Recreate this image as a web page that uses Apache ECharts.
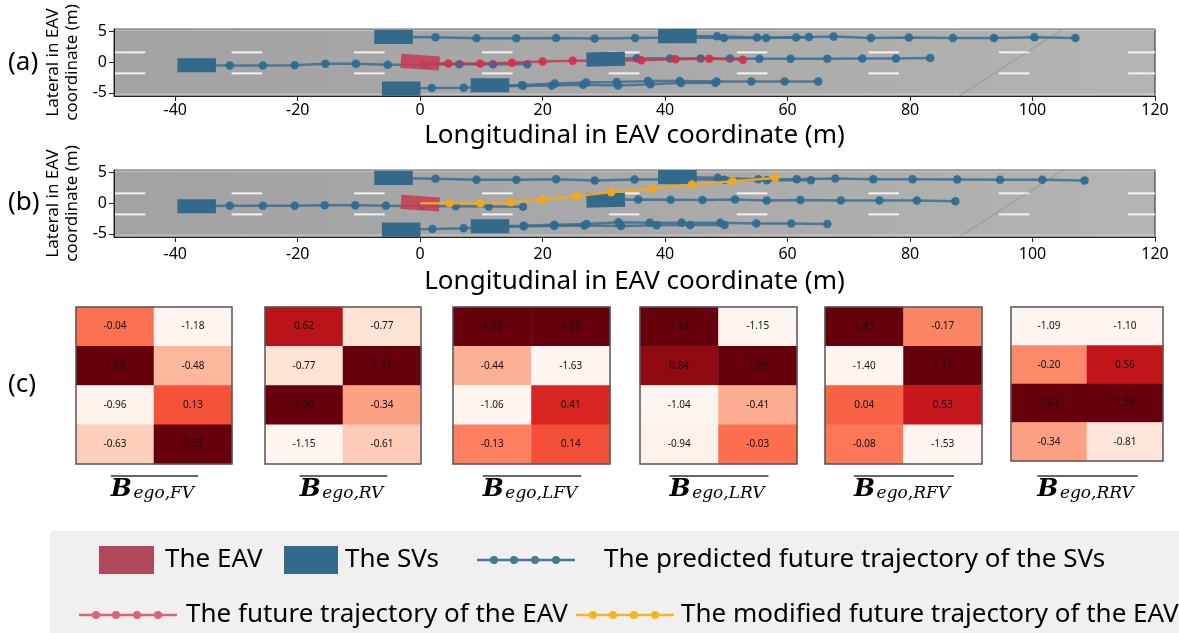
<!DOCTYPE html>
<html>
<head>
<meta charset="utf-8">
<script src="https://cdn.jsdelivr.net/npm/echarts@6.0.0/dist/echarts.min.js"></script>
<style>
html,body{margin:0;padding:0;background:#ffffff;}
#chart{width:1179px;height:633px;}
</style>
</head>
<body>
<div id="chart"></div>
<script>
// ================= DATA =================
const xTicks = [-40, -20, 0, 20, 40, 60, 80, 100, 120];
const yTicks = [-5, 0, 5];
const xRange = [-50, 120];
const yRange = [-5.5, 5.4];

// lane markings (dash start positions, lane line lateral positions)
const dashStarts = [-49.9, -30.8, -10.8, 10.1, 30.8, 51.7, 73.2, 94.5, 115.6];
const laneYs = [1.6, -1.82];
const roadEdgeY = [5.3, -5.35];
const seamX = [88, 105];
const seamY = [-5.5, 5.4];

// vehicles: [x, y, heading(deg)]
const eavPose = [[0, 0, -4]];
const svPoses = [
  [-4.35, 4.1, 0],
  [42.0, 4.25, 0],
  [-36.5, -0.5, 0],
  [30.3, 0.5, 1.5],
  [-3.1, -4.3, 0],
  [11.4, -3.75, 0]
];

// (a) predicted SV trajectories
const sv1A_x = [2.5, 9.2, 15.7, 22.2, 28.5, 35.1, 42.0, 49.6, 56.5, 63.5];
const sv1A_y = [4.05, 3.9, 3.9, 3.95, 3.84, 3.95, 4.0, 3.95, 3.95, 4.1];
const sv2A_x = [48.5, 55.0, 61.4, 67.5, 73.6, 79.8, 87.0, 93.7, 100.3, 107.0];
const sv2A_y = [4.22, 4.0, 4.0, 4.16, 3.95, 4.0, 3.95, 3.95, 4.05, 3.95];
const sv3A_x = [-31.1, -25.7, -20.5, -15.5, -10.5, -5.3, 0.8, 6.4, 11.9, 17.5];
const sv3A_y = [-0.53, -0.53, -0.5, -0.26, -0.26, -0.42, -0.43, -0.32, -0.32, -0.32];
const sv4A_x = [35.4, 40.8, 45.8, 50.6, 55.4, 60.5, 66.5, 72.2, 77.7, 83.3];
const sv4A_y = [0.65, 0.6, 0.6, 0.6, 0.55, 0.55, 0.55, 0.6, 0.6, 0.7];
const sv5A_x = [1.9, 7.1, 12.2, 16.8, 21.5, 26.6, 32.3, 37.6, 42.6, 48.2];
const sv5A_y = [-4.2, -4.15, -4.0, -3.85, -3.8, -3.67, -3.78, -3.6, -3.4, -3.34];
const sv6A_x = [16.6, 22.0, 27.1, 32.1, 37.2, 42.4, 48.4, 54.1, 59.5, 65.0];
const sv6A_y = [-3.75, -3.45, -3.3, -3.24, -3.08, -3.08, -3.13, -3.13, -3.13, -3.13];
// (a) future EAV trajectory
const eavA_x = [4.6, 9.8, 15.0, 20.0, 24.9, 30.5, 36.1, 41.7, 47.2, 52.7];
const eavA_y = [-0.21, -0.21, -0.1, 0.11, 0.22, 0.27, 0.3, 0.49, 0.55, 0.38];

// (b) predicted SV trajectories
const sv1B_x = [2.5, 9.2, 15.7, 22.2, 28.5, 35.0, 42.3, 49.7, 56.6, 63.8];
const sv1B_y = [3.96, 3.8, 3.8, 3.9, 3.69, 3.85, 3.9, 3.8, 3.75, 3.75];
const sv2B_x = [48.6, 55.2, 61.5, 67.8, 74.0, 80.4, 87.7, 94.7, 101.6, 108.5];
const sv2B_y = [4.12, 3.9, 3.9, 4.0, 3.9, 3.9, 3.85, 3.8, 3.8, 3.7];
const sv3B_x = [-31.1, -25.7, -20.5, -15.6, -10.6, -5.6, 0.3, 5.8, 11.2, 16.8];
const sv3B_y = [-0.43, -0.43, -0.43, -0.32, -0.32, -0.43, -0.45, -0.48, -0.53, -0.59];
const sv4B_x = [35.6, 40.9, 46.1, 51.4, 56.6, 62.1, 68.7, 75.0, 81.1, 87.4];
const sv4B_y = [0.59, 0.55, 0.5, 0.59, 0.45, 0.5, 0.42, 0.42, 0.42, 0.32];
const sv5B_x = [2.0, 7.1, 12.1, 16.9, 21.9, 26.8, 32.8, 38.6, 44.1, 49.7];
const sv5B_y = [-4.2, -4.06, -3.9, -3.75, -3.7, -3.63, -3.7, -3.58, -3.53, -3.55];
const sv6B_x = [16.9, 21.9, 27.2, 32.4, 37.5, 42.7, 49.0, 54.9, 60.6, 66.5];
const sv6B_y = [-3.65, -3.5, -3.37, -3.1, -3.2, -3.2, -3.2, -3.3, -3.3, -3.37];
// (b) modified future EAV trajectory
const eavB_x = [4.8, 9.8, 14.8, 20.0, 25.5, 31.2, 37.9, 44.4, 51.0, 58.0];
const eavB_y = [0.0, 0.0, 0.16, 0.59, 1.12, 1.8, 2.34, 3.04, 3.57, 4.1];

// (c) heatmaps (rows top->bottom, 2 columns)
const hmFV  = [[-0.04, -1.18], [1.63, -0.48], [-0.96, 0.13], [-0.63, 1.53]];
const hmRV  = [[0.62, -0.77], [-0.77, 1.71], [1.30, -0.34], [-1.15, -0.61]];
const hmLFV = [[1.63, 1.08], [-0.44, -1.63], [-1.06, 0.41], [-0.13, 0.14]];
const hmLRV = [[1.14, -1.15], [0.84, 1.59], [-1.04, -0.41], [-0.94, -0.03]];
const hmRFV = [[1.43, -0.17], [-1.40, 1.17], [0.04, 0.53], [-0.08, -1.53]];
const hmRRV = [[-1.09, -1.10], [-0.20, 0.56], [1.63, 1.35], [-0.34, -0.81]];
const hmSubs = ['ego,FV', 'ego,RV', 'ego,LFV', 'ego,LRV', 'ego,RFV', 'ego,RRV'];
const hmColorRange = [-1, 1];

// legend / text labels
const nameEAV = 'The EAV';
const nameSV = 'The SVs';
const namePred = 'The predicted future trajectory of the SVs';
const nameFut = 'The future trajectory of the EAV';
const nameMod = 'The modified future trajectory of the EAV';
const xName = 'Longitudinal in EAV coordinate (m)';
const yName = 'Lateral in EAV\ncoordinate (m)';

// ================= STYLE / LAYOUT =================
const FONT = 'Noto Sans';
const VEH_L = 6.3, VEH_W = 2.3, DASH_LEN = 5;
const C_SV = '#336a8b';
const C_EAV = 'rgba(200,58,84,0.86)';
const C_BLUE_LINE = 'rgba(52,108,145,0.82)';
const C_BLUE_DOT = 'rgba(46,106,146,0.92)';
const C_RED_LINE = 'rgba(214,44,72,0.8)';
const C_RED_DOT = 'rgba(212,48,76,0.92)';
const C_YEL = 'rgba(242,168,28,0.95)';
const REDS = ['#fff5f0','#fee0d2','#fcbba1','#fc9272','#fb6a4a','#ef3b2c','#cb181d','#a50f15','#67000d'];

const roadBg = {type:'linear', x:0, y:0, x2:1, y2:0, colorStops:[
  {offset:0, color:'#a3a3a3'}, {offset:0.5, color:'#a9a9a9'}, {offset:1, color:'#b4b4b2'}]};

const pair = (xs, ys) => xs.map((x, i) => [x, ys[i]]);

const chart = echarts.init(document.getElementById('chart'), null, {renderer:'canvas'});

const grids = [
  {left:114, top:29, width:1041, height:67, show:true, backgroundColor:roadBg, borderColor:'#222', borderWidth:1},
  {left:114, top:170, width:1041, height:67, show:true, backgroundColor:roadBg, borderColor:'#222', borderWidth:1}
];
const hmLeft = [76, 265, 453, 640, 825, 1011];
const hmW = [156, 156, 157, 157, 157, 152];
const hmH = [157, 157, 157, 157, 157, 154];
const hmTop = 307;
hmLeft.forEach((l, k) => grids.push({left:l, top:hmTop, width:hmW[k], height:hmH[k], show:true,
  backgroundColor:'rgba(0,0,0,0)', borderColor:'#555', borderWidth:1.5, z:10}));

function roadX(gi, margin, gap) {
  return {type:'value', gridIndex:gi, min:xRange[0], max:xRange[1], z:10,
    name:xName, nameLocation:'middle', nameGap:gap,
    nameTextStyle:{fontSize:26, color:'#000', fontFamily:FONT},
    axisLine:{show:true, onZero:false, lineStyle:{color:'#222', width:1}},
    axisTick:{show:true, customValues:xTicks, length:5, lineStyle:{color:'#222'}},
    axisLabel:{customValues:xTicks, fontSize:16, color:'#000', margin:margin, fontFamily:FONT},
    splitLine:{show:false}};
}
function roadY(gi) {
  return {type:'value', gridIndex:gi, min:yRange[0], max:yRange[1], z:10,
    name:yName, nameLocation:'middle', nameGap:24,
    nameTextStyle:{fontSize:17, lineHeight:19, color:'#000', fontFamily:FONT},
    axisLine:{show:true, onZero:false, lineStyle:{color:'#222', width:1}},
    axisTick:{show:true, customValues:yTicks, length:5, lineStyle:{color:'#222'}},
    axisLabel:{customValues:yTicks, fontSize:16, color:'#000', margin:7, fontFamily:FONT},
    splitLine:{show:false}};
}
const xAxes = [roadX(0, 6, 27), roadX(1, 9, 32)];
const yAxes = [roadY(0), roadY(1)];
hmLeft.forEach((l, k) => {
  xAxes.push({type:'category', gridIndex:k + 2, data:[0, 1], show:false});
  yAxes.push({type:'category', gridIndex:k + 2, data:[0, 1, 2, 3], inverse:true, show:false});
});

function dashItem(params, api) {
  const s = api.value(0), y = api.value(1);
  const p1 = api.coord([s, y]), p2 = api.coord([s + DASH_LEN, y]);
  return {type:'line', shape:{x1:p1[0], y1:p1[1], x2:p2[0], y2:p2[1]},
    style:{stroke:'rgba(255,255,255,0.85)', lineWidth:2}};
}
function vehItem(fill) {
  return function (params, api) {
    const cx = api.value(0), cy = api.value(1), h = api.value(2) * Math.PI / 180;
    const c = Math.cos(h), s = Math.sin(h), hl = VEH_L / 2, hw = VEH_W / 2;
    const pts = [[hl, hw], [hl, -hw], [-hl, -hw], [-hl, hw]].map(([a, b]) =>
      api.coord([cx + a * c - b * s, cy + a * s + b * c]));
    return {type:'polygon', shape:{points:pts}, style:{fill:fill}};
  };
}
function traj(gi, name, start, xs, ys, lineColor, dotColor, z) {
  const data = [{value:[start[0], start[1]], symbol:'none'}].concat(pair(xs, ys));
  return {type:'line', name:name, xAxisIndex:gi, yAxisIndex:gi, data:data, z:z,
    symbol:'circle', symbolSize:8.5, showAllSymbol:true, silent:true, animation:false,
    lineStyle:{color:lineColor, width:2.5}, itemStyle:{color:dotColor}, color:lineColor,
    emphasis:{disabled:true}};
}

const series = [];
const predA = [[sv1A_x, sv1A_y], [sv2A_x, sv2A_y], [sv3A_x, sv3A_y], [sv4A_x, sv4A_y], [sv5A_x, sv5A_y], [sv6A_x, sv6A_y]];
const predB = [[sv1B_x, sv1B_y], [sv2B_x, sv2B_y], [sv3B_x, sv3B_y], [sv4B_x, sv4B_y], [sv5B_x, sv5B_y], [sv6B_x, sv6B_y]];

[0, 1].forEach(gi => {
  series.push({type:'custom', xAxisIndex:gi, yAxisIndex:gi, z:1, silent:true, clip:true,
    data:laneYs.flatMap(y => dashStarts.map(s => [s, y])), renderItem:dashItem});
  roadEdgeY.forEach(y => series.push({type:'line', xAxisIndex:gi, yAxisIndex:gi, z:1, silent:true,
    symbol:'none', data:[[xRange[0], y], [xRange[1], y]], lineStyle:{color:'rgba(255,255,255,0.3)', width:3}}));
  series.push({type:'line', xAxisIndex:gi, yAxisIndex:gi, z:1, silent:true, symbol:'none',
    data:pair(seamX, seamY), lineStyle:{color:'rgba(70,70,70,0.14)', width:1.5}});
  const preds = gi === 0 ? predA : predB;
  preds.forEach((p, i) => series.push(traj(gi, namePred, svPoses[i], p[0], p[1], C_BLUE_LINE, C_BLUE_DOT, 2)));
  if (gi === 0) series.push(traj(0, nameFut, eavPose[0], eavA_x, eavA_y, C_RED_LINE, C_RED_DOT, 2.5));
  series.push({type:'custom', name:nameSV, xAxisIndex:gi, yAxisIndex:gi, z:3, silent:true, clip:true,
    itemStyle:{color:C_SV}, data:svPoses, renderItem:vehItem(C_SV)});
  series.push({type:'custom', name:nameEAV, xAxisIndex:gi, yAxisIndex:gi, z:4, silent:true, clip:true,
    itemStyle:{color:C_EAV}, data:eavPose, renderItem:vehItem(C_EAV)});
  if (gi === 1) series.push(traj(1, nameMod, eavPose[0], eavB_x, eavB_y, C_YEL, C_YEL, 5));
});

const heatmaps = [hmFV, hmRV, hmLFV, hmLRV, hmRFV, hmRRV];
const hmSeriesIdx = [];
heatmaps.forEach((m, k) => {
  const data = [];
  m.forEach((row, r) => row.forEach((v, c) => {
    data.push([c, r, Math.max(hmColorRange[0], Math.min(hmColorRange[1], v)), v]);
  }));
  hmSeriesIdx.push(series.length);
  series.push({type:'heatmap', xAxisIndex:k + 2, yAxisIndex:k + 2, data:data, silent:true,
    itemStyle:{borderWidth:0},
    label:{show:true, fontSize:10, color:'#111', fontFamily:FONT, formatter:p => p.data[3].toFixed(2)},
    emphasis:{disabled:true}});
});

// ---- graphic: panel letters, legend box, heatmap captions ----
const mctx = document.createElement('canvas').getContext('2d');
const tw = (t, f) => { mctx.font = f; return mctx.measureText(t).width; };
const fontB = 'italic bold 25px "DejaVu Serif"';
const fontS = 'italic 17px "DejaVu Serif"';

const graphics = [
  {type:'rect', shape:{x:50, y:531, width:1135, height:110}, style:{fill:'#f0f0f0'}, z:-10, silent:true},
  {type:'text', x:8, y:63, style:{text:'(a)', font:'26px "Noto Sans"', fill:'#000', verticalAlign:'middle'}},
  {type:'text', x:8, y:203, style:{text:'(b)', font:'26px "Noto Sans"', fill:'#000', verticalAlign:'middle'}},
  {type:'text', x:8, y:385, style:{text:'(c)', font:'26px "Noto Sans"', fill:'#000', verticalAlign:'middle'}}
];
hmSubs.forEach((sub, k) => {
  const cx = hmLeft[k] + hmW[k] / 2;
  const bw = tw('B', fontB), sw = tw(sub, fontS);
  const total = bw + 1.5 + sw;
  const x0 = cx - total / 2 - 1.5;
  graphics.push({type:'text', x:x0, y:489, style:{text:'B', font:fontB, fill:'#000', verticalAlign:'middle'}});
  graphics.push({type:'text', x:x0 + bw + 1.5, y:494, style:{text:sub, font:fontS, fill:'#000', verticalAlign:'middle'}});
  graphics.push({type:'line', shape:{x1:x0, y1:476, x2:x0 + total + 4, y2:476}, style:{stroke:'#333', lineWidth:1.5}});
});

const dotIcon = 'path://M0,2.8H98V5.2H0Z ' + [17, 37, 58, 79].map(c => `M${c - 4},4a4,4 0 1,1 8,0a4,4 0 1,1 -8,0Z`).join(' ');
const legTxt = pad => ({fontSize:26, color:'#000', fontFamily:FONT, padding:[0, 0, 0, pad]});
const legends = [
  {left:99, top:546, itemWidth:55, itemHeight:28, data:[{name:nameEAV, icon:'rect', itemStyle:{color:'#b04a5a', borderWidth:0}}], textStyle:legTxt(6)},
  {left:284, top:546, itemWidth:54, itemHeight:28, data:[{name:nameSV, icon:'rect', itemStyle:{color:'#336a8b', borderWidth:0}}], textStyle:legTxt(2)},
  {left:477, top:547, itemWidth:98, itemHeight:8, data:[{name:namePred, icon:dotIcon, itemStyle:{color:'#457797', borderWidth:0}}], textStyle:legTxt(24)},
  {left:79, top:602, itemWidth:98, itemHeight:8, data:[{name:nameFut, icon:dotIcon, itemStyle:{color:'#db6378', borderWidth:0}}], textStyle:legTxt(4)},
  {left:576, top:602, itemWidth:98, itemHeight:8, data:[{name:nameMod, icon:dotIcon, itemStyle:{color:'#f5b51c', borderWidth:0}}], textStyle:legTxt(2)}
].map(l => Object.assign({padding:0, selectedMode:false, orient:'horizontal', z:20}, l));

chart.setOption({
  animation:false,
  backgroundColor:'#ffffff',
  textStyle:{fontFamily:FONT},
  grid:grids,
  xAxis:xAxes,
  yAxis:yAxes,
  visualMap:{type:'continuous', show:false, min:hmColorRange[0], max:hmColorRange[1], dimension:2,
    seriesIndex:hmSeriesIdx, inRange:{color:REDS}},
  legend:legends,
  graphic:graphics,
  series:series
});
</script>
</body>
</html>
